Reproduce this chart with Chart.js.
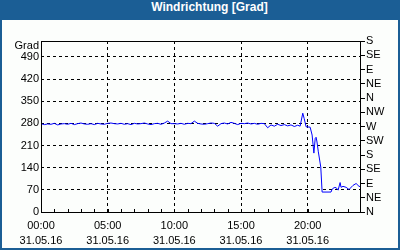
<!DOCTYPE html>
<html>
<head>
<meta charset="utf-8">
<script src="https://cdn.jsdelivr.net/npm/chart.js@4.4.0/dist/chart.umd.min.js"></script>
<style>
  body { margin: 0; background: #fff; }
  #box {
    width: 400px; height: 250px; box-sizing: border-box;
    border: 2px solid #1b5e95; border-top: none; background: #fcfefc;
  }
  #title {
    height: 20px; line-height: 20px; margin: 0 -2px; background: #1b5e95;
    color: #fff; font: bold 12px "Liberation Sans", Arial, sans-serif;
    text-align: center; padding-left: 19px;
  }
  canvas { display: block; }
</style>
</head>
<body>
<div id="box">
  <div id="title">Windrichtung [Grad]</div>
  <canvas id="chart" width="396" height="228"></canvas>
</div>
<script>
// wind direction samples for 31.05.16
const times = [
  '00:00','00:15','00:30','00:45','01:00','01:15','01:30','01:45','02:00','02:15',
  '02:30','02:45','03:00','03:15','03:30','03:45','04:00','04:15','04:30','04:45',
  '05:00','05:15','05:30','05:45','06:00','06:15','06:30','06:45','07:00','07:15',
  '07:30','07:45','08:00','08:15','08:30','08:45','09:00','09:15','09:30','09:45',
  '10:00','10:15','10:30','10:45','11:00','11:15','11:30','11:45','12:00','12:15',
  '12:30','12:45','13:00','13:15','13:30','13:45','14:00','14:15','14:30','14:45',
  '15:00','15:15','15:30','15:45','16:00','16:15','16:30','16:45','17:00','17:15',
  '17:30','17:45','18:00','18:15','18:30','18:45','19:00','19:15',
  '19:26','19:38','19:44','19:53','20:11','20:20','20:28','20:34','20:38','20:42',
  '20:48','20:59','21:05','21:45','21:50','21:59','22:08','22:17','22:26','22:30',
  '22:39','22:53','23:06','23:24','23:38','23:51','23:59'
];
const windDir = [
  279,276,278,277,280,275,278,279,277,280,
  276,279,281,278,277,279,276,280,278,277,
  280,281,279,278,280,277,279,276,280,278,
  279,281,278,276,279,280,277,281,287,279,
  279,278,280,277,280,279,287,280,278,277,
  279,281,280,271,279,281,278,283,280,276,
  280,279,281,278,280,277,280,279,266,275,
  271,277,273,276,272,275,270,274,
  271,312,296,269,268,243,186,233,236,221,
  190,142,63,63,72,77,77,69,93,78,
  81,78,71,84,90,81,80
];

const hourTicks = [0, 5, 10, 15, 20];
const hourLabels = ['00:00', '05:00', '10:00', '15:00', '20:00'];
const dateLabel = '31.05.16';
const gradTicks = [0, 70, 140, 210, 280, 350, 420, 490];
const dirTicks = [0, 45, 90, 135, 180, 225, 270, 315, 360, 405, 450, 495, 540];
const dirLabels = ['N', 'NE', 'E', 'SE', 'S', 'SW', 'W', 'NW', 'N', 'NE', 'E', 'SE', 'S'];

function toHours(t) {
  const p = t.split(':');
  return +p[0] + p[1] / 60;
}

const points = times.map((t, i) => ({ x: toHours(t), y: windDir[i] }));
const font = { family: '"Liberation Sans", Arial, sans-serif', size: 11 };

const framePlugin = {
  id: 'frame',
  afterDatasetsDraw(chart) {
    const ctx = chart.ctx;
    const a = chart.chartArea;
    const xs = chart.scales.x;
    ctx.save();
    ctx.strokeStyle = '#000';
    ctx.lineWidth = 1;
    ctx.strokeRect(Math.round(a.left) + 0.5, Math.round(a.top) + 0.5,
      Math.round(a.right - a.left) - 1, Math.round(a.bottom - a.top));
    // small hourly ticks on the time axis
    ctx.beginPath();
    for (let h = 1; h < 24; h++) {
      const x = Math.round(xs.getPixelForValue(h)) + 0.5;
      ctx.moveTo(x, a.bottom);
      ctx.lineTo(x, a.bottom - 3);
    }
    ctx.stroke();
    ctx.fillStyle = '#000';
    ctx.font = '11px "Liberation Sans", Arial, sans-serif';
    ctx.textAlign = 'right';
    ctx.textBaseline = 'middle';
    ctx.fillText('Grad', chart.scales.y.right - 2, a.top + 5);
    ctx.restore();
  }
};

new Chart(document.getElementById('chart'), {
  type: 'line',
  data: {
    datasets: [{
      data: points,
      borderColor: '#0000ff',
      borderWidth: 1,
      pointRadius: 0,
      tension: 0,
      fill: false
    }]
  },
  options: {
    responsive: false,
    animation: false,
    devicePixelRatio: 1,
    layout: { padding: { top: 21, left: 0, right: 0, bottom: 0 } },
    plugins: { legend: { display: false }, tooltip: { enabled: false } },
    scales: {
      x: {
        type: 'linear',
        min: 0,
        max: 24,
        afterBuildTicks: s => { s.ticks = hourTicks.map(v => ({ value: v })); },
        afterFit: s => { s.height = 36; },
        grid: {
          drawTicks: false,
          color: c => (c.tick && c.tick.value === 0 ? 'transparent' : '#000'),
          lineWidth: 1
        },
        border: { display: false, dash: [3, 3] },
        ticks: {
          autoSkip: false,
          maxRotation: 0,
          padding: 6,
          color: '#000',
          font: Object.assign({ lineHeight: 15 / 11 }, font),
          callback: (v) => {
            const i = hourTicks.indexOf(v);
            return i < 0 ? '' : [hourLabels[i], dateLabel];
          }
        }
      },
      y: {
        position: 'left',
        min: 0,
        max: 540,
        afterBuildTicks: s => { s.ticks = gradTicks.map(v => ({ value: v })); },
        afterFit: s => { s.width = 39; },
        grid: {
          drawTicks: false,
          color: c => (c.tick && c.tick.value === 0 ? 'transparent' : '#000')
        },
        border: { display: false, dash: [3, 3] },
        ticks: { autoSkip: false, padding: 2, color: '#000', font: font }
      },
      y2: {
        position: 'right',
        min: 0,
        max: 540,
        afterBuildTicks: s => { s.ticks = dirTicks.map(v => ({ value: v })); },
        afterFit: s => { s.width = 37; },
        grid: { drawOnChartArea: false, drawTicks: true, tickLength: 4, color: '#000' },
        border: { display: false },
        ticks: {
          autoSkip: false,
          padding: 1,
          color: '#000',
          font: font,
          callback: v => dirLabels[dirTicks.indexOf(v)]
        }
      }
    }
  },
  plugins: [framePlugin]
});
</script>
</body>
</html>
